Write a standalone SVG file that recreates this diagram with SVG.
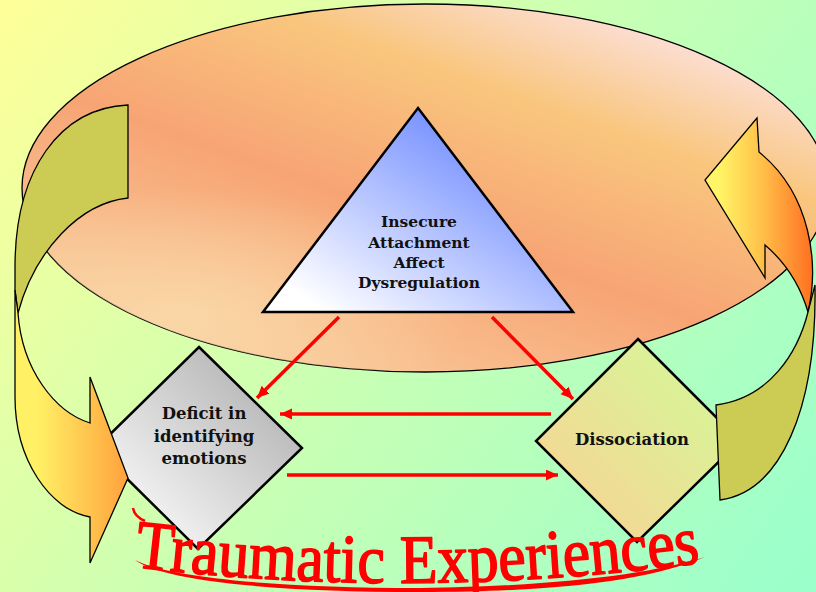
<svg xmlns="http://www.w3.org/2000/svg" xmlns:xlink="http://www.w3.org/1999/xlink" width="816" height="592" viewBox="0 0 816 592">
<defs>
<linearGradient id="bg" x1="0" y1="0" x2="816" y2="592" gradientUnits="userSpaceOnUse">
<stop offset="0" stop-color="#ffff99"/>
<stop offset="0.5" stop-color="#c8ffb4"/>
<stop offset="1" stop-color="#99ffcc"/>
</linearGradient>
<linearGradient id="ell" x1="0.85" y1="0" x2="0.15" y2="0.9">
<stop offset="0" stop-color="#fde8f6"/>
<stop offset="0.3" stop-color="#f9c67e"/>
<stop offset="0.6" stop-color="#f7a474"/>
<stop offset="1" stop-color="#f9cc9c"/>
</linearGradient>
<radialGradient id="ellGlow" cx="0.2" cy="0.85" r="0.35">
<stop offset="0" stop-color="#fad8a8" stop-opacity="0.9"/>
<stop offset="1" stop-color="#fad8a8" stop-opacity="0"/>
</radialGradient>
<linearGradient id="tri" x1="0" y1="1" x2="1" y2="0">
<stop offset="0.1" stop-color="#ffffff"/>
<stop offset="0.75" stop-color="#7a94ff"/>
<stop offset="1" stop-color="#6a86ff"/>
</linearGradient>
<linearGradient id="gray" x1="0" y1="1" x2="1" y2="0">
<stop offset="0.15" stop-color="#f8f8f8"/>
<stop offset="0.85" stop-color="#b4b4b4"/>
</linearGradient>
<linearGradient id="peach" x1="0" y1="1" x2="1" y2="0">
<stop offset="0.15" stop-color="#f6d694"/>
<stop offset="0.85" stop-color="#d6f698"/>
</linearGradient>
<linearGradient id="yelL" x1="15" y1="0" x2="128" y2="0" gradientUnits="userSpaceOnUse">
<stop offset="0.2" stop-color="#fff066"/>
<stop offset="1" stop-color="#ffa23c"/>
</linearGradient>
<linearGradient id="yelR" x1="708" y1="0" x2="816" y2="0" gradientUnits="userSpaceOnUse">
<stop offset="0.1" stop-color="#fff566"/>
<stop offset="0.5" stop-color="#ffc04a"/>
<stop offset="1" stop-color="#ff6a1e"/>
</linearGradient>
<marker id="ah" markerUnits="userSpaceOnUse" markerWidth="14" markerHeight="12" refX="12" refY="5.5" orient="auto">
<path d="M0,0 L12,5.5 L0,11 Z" fill="#ff0000"/>
</marker>
<path id="wa" d="M134,567 Q420,601 706,562"/>
</defs>
<style>
.outline{stroke:#000;stroke-width:1.3;stroke-linejoin:miter}
.olive{fill:#cccc55}
.shape{stroke:#000;stroke-width:2.5;stroke-linejoin:miter}
.lbl{font-family:"DejaVu Serif",serif;font-weight:bold;fill:#111;text-anchor:middle}
.t15{font-size:15.5px}
.t16{font-size:16.5px}
.conn{stroke:#ff0000;stroke-width:3.5;fill:none}
.wa{font-family:"Liberation Serif","Times New Roman",serif;font-size:69px;fill:#ff0000;stroke:#ff0000;stroke-width:1.6;stroke-linejoin:round}
</style>
<rect width="816" height="592" fill="url(#bg)"/>
<g id="ring">
<ellipse cx="425" cy="188" rx="403" ry="184" fill="url(#ell)" class="outline"/>
<ellipse cx="425" cy="188" rx="403" ry="184" fill="url(#ellGlow)"/>
</g>
<g id="cycle-arrow-left-back">
<path class="olive outline" d="M128,105 L128,198 C80,203 35,250 18,313 L15,290 L15,267 C15,170 60,108 128,105 Z"/>
</g>
<g id="cycle-arrow-right">
<path fill="url(#yelR)" class="outline" d="M759,152 L757,118 L705,180 L765,278 L765,245 C785,262 800,285 808,312 C819,265 812,195 759,152 Z"/>
</g>
<g id="n-insecure">
<polygon class="shape" points="418,108 573,312 263,312" fill="url(#tri)" stroke-width="2.2"/>
<text class="lbl t15" x="419" y="227">Insecure</text>
<text class="lbl t15" x="419" y="248">Attachment</text>
<text class="lbl t15" x="419" y="268">Affect</text>
<text class="lbl t15" x="419" y="288">Dysregulation</text>
</g>
<g id="n-dissociation">
<polygon class="shape" points="638,339 740,441 637,542 536,441" fill="url(#peach)"/>
<text class="lbl t16" x="632" y="445">Dissociation</text>
</g>
<g id="cycle-arrow-right-back">
<path class="olive outline" d="M716,405 L720,500 C780,492 817,410 815,285 L808,312 C798,352 770,398 716,405 Z"/>
</g>
<g id="n-deficit">
<polygon class="shape" points="199,347 302,448 198,549 96,448" fill="url(#gray)"/>
<text class="lbl t16" x="204" y="419">Deficit in</text>
<text class="lbl t16" x="204" y="442">identifying</text>
<text class="lbl t16" x="204" y="464">emotions</text>
</g>
<g id="cycle-arrow-left">
<path fill="url(#yelL)" class="outline" d="M15,290 L15,397 C15,460 50,510 90,517 L90,563 L128,478 L90,377 L90,423 C55,412 22,370 18,313 Z"/>
</g>
<g id="connectors">
<line class="conn" x1="339" y1="317" x2="257" y2="398" marker-end="url(#ah)"/>
<line class="conn" x1="492" y1="317" x2="573" y2="399" marker-end="url(#ah)"/>
<line class="conn" x1="551" y1="414" x2="280" y2="414" marker-end="url(#ah)"/>
<line class="conn" x1="287" y1="475" x2="558" y2="475" marker-end="url(#ah)"/>
</g>
<g id="title">
<path d="M135,560 C165,582 280,592 420,592 C560,592 650,580 705,557 C650,574 560,586 420,588 C280,588 170,578 135,560 Z" fill="#ff0000"/>
<path d="M133,508 C134,514 138,518 145,521" fill="none" stroke="#ff0000" stroke-width="2.5"/>
<text class="wa"><textPath xlink:href="#wa" href="#wa" textLength="568" lengthAdjust="spacingAndGlyphs">Traumatic Experiences</textPath></text>
</g>
</svg>
